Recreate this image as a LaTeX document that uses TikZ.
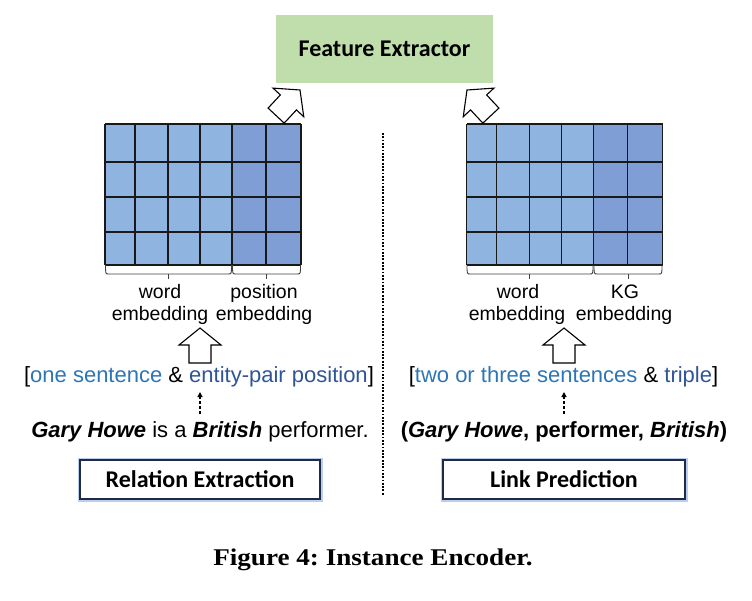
\documentclass[tikz,border=0pt]{standalone}
\usepackage{fontspec}
\setmainfont{Liberation Sans}
\newfontfamily\calfont{Carlito}
\newfontfamily\capfont{Liberation Serif}
\usetikzlibrary{arrows.meta}
\definecolor{fegreen}{HTML}{C0DEAC}
\definecolor{cellA}{HTML}{8FB4DF}
\definecolor{cellB}{HTML}{7F9ED6}
\definecolor{lblue}{HTML}{2E75B6}
\definecolor{dblue}{HTML}{2F5597}
\definecolor{navy}{HTML}{1F2A44}
\definecolor{glowc}{HTML}{A8C2EE}
\tikzset{
  gridline/.style={draw=black!90, line width=1.1pt},
  bracestyle/.style={draw=black!75, line width=0.9pt},
  hollow/.style={draw=black, fill=white, line width=1.1pt, line join=miter},
  lbl/.style={inner sep=0pt, anchor=base, font=\fontsize{19.5}{22}\selectfont},
  txt/.style={inner sep=0pt, anchor=base, font=\fontsize{22}{26}\selectfont},
  taskbox/.style={draw=navy, line width=1.5pt, fill=white, minimum height=39pt, inner sep=0pt, font=\calfont\bfseries\fontsize{24}{28}\selectfont},
  dasharrow/.style={-{Triangle[length=5pt,width=5pt]}, line width=1.3pt, dash pattern=on 3pt off 2pt},
}
\begin{document}
\begin{tikzpicture}[x=1pt,y=-1pt]
\useasboundingbox (0,0) rectangle (752,600);

% Feature extractor
\node[fill=fegreen, minimum width=217pt, minimum height=68pt, inner sep=0pt,
      font=\calfont\bfseries\fontsize{24}{28}\selectfont] (fe) at (384.5,49) {Feature Extractor};

% grids
\foreach \ox in {0,361.5}{
  \fill[cellA] (105+\ox,124) rectangle (232+\ox,265);
  \fill[cellB] (232+\ox,124) rectangle (301+\ox,265);
  \foreach \cx in {105,135,168,200,232,266,301}
    \draw[gridline] (\cx+\ox,124) -- (\cx+\ox,265);
  \foreach \ry in {124,162,197,232,265}
    \draw[gridline] (105+\ox,\ry) -- (301+\ox,\ry);
  % braces
  \draw[bracestyle] (105.5+\ox,265) .. controls (105.5+\ox,274) .. (109+\ox,274) -- (228+\ox,274) .. controls (231.5+\ox,274) .. (231.5+\ox,265);
  \draw[bracestyle] (168+\ox,274) -- (168+\ox,279);
  \draw[bracestyle] (232.5+\ox,265) .. controls (232.5+\ox,274) .. (236+\ox,274) -- (297+\ox,274) .. controls (300.5+\ox,274) .. (300.5+\ox,265);
  \draw[bracestyle] (266.5+\ox,274) -- (266.5+\ox,279);
}

% brace labels
\node[lbl] (w1) at (160,298) {word};
\node[lbl] (e1) at (160,320) {embedding};
\node[lbl] (p1) at (264,298) {position};
\node[lbl] (e2) at (264,320) {embedding};
\node[lbl] (w2) at (518,298) {word};
\node[lbl] (e3) at (517,320) {embedding};
\node[lbl] (k2) at (625,298) {KG};
\node[lbl] (e4) at (624,320) {embedding};

% hollow arrows (tip at origin, pointing +x)
\def\harrow{(0,0) -- (-17,21) -- (-17,11) -- (-35,11) -- (-35,-11) -- (-17,-11) -- (-17,-21) -- cycle}
\draw[hollow, shift={(200,328)}, rotate=90] \harrow;
\draw[hollow, shift={(564,328)}, rotate=90] \harrow;
\draw[hollow, shift={(300,90)}, rotate=47] \harrow;
\draw[hollow, shift={(467,90)}, rotate=133] \harrow;

% dotted separator
\coordinate (dtop) at (383,133);
\coordinate (dbot) at (383,495);
\draw[line width=2pt, dash pattern=on 1.8pt off 1.5pt] (dtop) -- (dbot);

% input texts
\node[txt] (in1) at (199,382) {[\textcolor{lblue}{one sentence} \& \textcolor{dblue}{entity-pair position}]};
\node[txt] (in2) at (563.5,382) {[\textcolor{lblue}{two or three sentences} \& \textcolor{dblue}{triple}]};
\node[txt] (ex1) at (200,437) {\textbf{\textit{Gary Howe}} is a \textbf{\textit{British}} performer.};
\node[txt] (ex2) at (564,437) {\textbf{(\textit{Gary Howe}, performer, \textit{British})}};

% dashed arrows
\coordinate (a1s) at (200,414); \coordinate (a1e) at (200,392);
\coordinate (a2s) at (564,414); \coordinate (a2e) at (564,392);
\draw[dasharrow] (a1s) -- (a1e);
\draw[dasharrow] (a2s) -- (a2e);

% task boxes with glow
\draw[glowc, line width=5pt, opacity=0.8] (80,460) rectangle (320,499);
\draw[glowc, line width=5pt, opacity=0.8] (443,460) rectangle (685,499);
\node[taskbox, minimum width=240pt] (re) at (200,479.5) {Relation Extraction};
\node[taskbox, minimum width=242pt] (lp) at (564,479.5) {Link Prediction};

% caption
\node[inner sep=0pt, anchor=base] (cap) at (373,565) {\scalebox{1.13}[1]{\capfont\bfseries\frenchspacing\fontsize{24}{28}\selectfont Figure 4: Instance Encoder.}};
\end{tikzpicture}
\end{document}
